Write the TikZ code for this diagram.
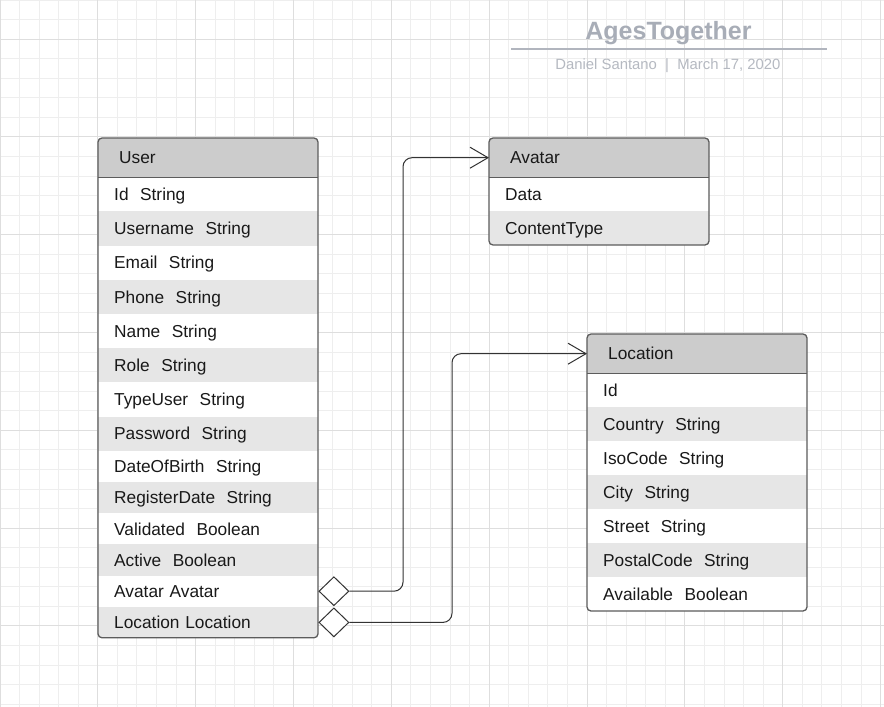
\documentclass[tikz,border=0pt]{standalone}
\usepackage{fontspec}
\setmainfont{Liberation Sans}
\usetikzlibrary{shapes.geometric,arrows.meta,calc}
\definecolor{gridminor}{HTML}{EEEEEE}
\definecolor{gridmajor}{HTML}{DEDEDE}
\definecolor{hdrfill}{HTML}{CCCCCC}
\definecolor{rowshade}{HTML}{E6E6E6}
\definecolor{border}{HTML}{5C5C5C}
\definecolor{connc}{HTML}{333333}
\definecolor{titlec}{HTML}{A8ADB7}
\definecolor{rulec}{HTML}{B1B5BE}
\definecolor{subc}{HTML}{B5B9C1}
\tikzset{
  tablefont/.style={font=\fontsize{17.3}{20}\selectfont, text=black!90, text height=12.4pt, text depth=0pt},
  hdr/.style={tablefont, anchor=north west, fill=hdrfill, minimum width=220pt, minimum height=39pt,
    inner xsep=21pt, inner ysep=0pt, text width=178pt, align=left},
  rowA/.style={tablefont, anchor=north west, fill=white, minimum width=220pt, minimum height=#1,
    inner xsep=16pt, inner ysep=0pt, text width=188pt, align=left},
  rowB/.style={rowA=#1, fill=rowshade},
  outline/.style={draw=border, line width=1.3pt, rounded corners=4pt},
  sepline/.style={draw=border, line width=1.3pt},
  agg/.style={diamond, draw=connc, fill=white, line width=1pt, minimum width=30pt, minimum height=29pt, inner sep=0pt, anchor=west},
  conn/.style={draw=connc, line width=1pt, rounded corners=9pt, -{Straight Barb[length=18pt,width=21pt,line width=1pt]}},
}
\begin{document}
\begin{tikzpicture}[x=1pt,y=-1pt]
\useasboundingbox (0,0) rectangle (884,707);
\fill[white] (0,0) rectangle (884,707);
% grid
\foreach \k in {0,...,45} \draw[gridminor, line width=1pt] (\k*19.57,0) -- (\k*19.57,707);
\foreach \k in {0,...,36} \draw[gridminor, line width=1pt] (0,\k*19.56) -- (884,\k*19.56);
\foreach \k in {0,5,...,45} \draw[gridmajor, line width=1pt] (\k*19.57,0) -- (\k*19.57,707);
\foreach \k in {2,7,...,37} \draw[gridmajor, line width=1pt] (0,\k*19.56) -- (884,\k*19.56);

% title
\node[font=\fontsize{25}{28}\bfseries, text=titlec, inner sep=0pt, anchor=base] (title) at (668.5,39.3) {AgesTogether};
\draw[rulec, line width=2pt] (511,48.7) -- (826.7,48.7);
\node[font=\fontsize{14.85}{17}\selectfont, text=subc, inner sep=0pt, anchor=base] (sub) at (668,69.4) {Daniel Santano\ \ |\ \ March 17, 2020};

% User table
\begin{scope}
\clip[rounded corners=4pt] (98,138) rectangle (318,637.8);
\node[hdr] (userH) at (98,138) {User};
\node[rowA=34.2pt] (u1) at (98,177) {Id\ \ String};
\node[rowB=34.2pt] (u2) at (98,211.2) {Username\ \ String};
\node[rowA=34.2pt] (u3) at (98,245.4) {Email\ \ String};
\node[rowB=34.2pt] (u4) at (98,279.6) {Phone\ \ String};
\node[rowA=34.2pt] (u5) at (98,313.8) {Name\ \ String};
\node[rowB=34.2pt] (u6) at (98,348) {Role\ \ String};
\node[rowA=34.2pt] (u7) at (98,382.2) {TypeUser\ \ String};
\node[rowB=34.2pt] (u8) at (98,416.4) {Password\ \ String};
\node[rowA=31.2pt] (u9) at (98,450.6) {DateOfBirth\ \ String};
\node[rowB=31.2pt] (u10) at (98,481.8) {RegisterDate\ \ String};
\node[rowA=31.2pt] (u11) at (98,513) {Validated\ \ Boolean};
\node[rowB=31.2pt] (u12) at (98,544.2) {Active\ \ Boolean};
\node[rowA=31.2pt] (uav) at (98,575.4) {Avatar Avatar};
\node[rowB=31.2pt] (ulo) at (98,606.6) {Location Location};
\end{scope}
\draw[outline] (98,138) rectangle (318,637.8);
\draw[sepline] (userH.south west) -- (userH.south east);

% Avatar table
\begin{scope}
\clip[rounded corners=4pt] (489,138) rectangle (709,245);
\node[hdr] (avatarH) at (489,138) {Avatar};
\node[rowA=34pt] (a1) at (489,177) {Data};
\node[rowB=34pt] (a2) at (489,211) {ContentType};
\end{scope}
\draw[outline] (489,138) rectangle (709,245);
\draw[sepline] (avatarH.south west) -- (avatarH.south east);

% Location table
\begin{scope}
\clip[rounded corners=4pt] (587,334) rectangle (807,611);
\node[hdr] (locH) at (587,334) {Location};
\node[rowA=34pt] (l1) at (587,373) {Id};
\node[rowB=34pt] (l2) at (587,407) {Country\ \ String};
\node[rowA=34pt] (l3) at (587,441) {IsoCode\ \ String};
\node[rowB=34pt] (l4) at (587,475) {City\ \ String};
\node[rowA=34pt] (l5) at (587,509) {Street\ \ String};
\node[rowB=34pt] (l6) at (587,543) {PostalCode\ \ String};
\node[rowA=34pt] (l7) at (587,577) {Available\ \ Boolean};
\end{scope}
\draw[outline] (587,334) rectangle (807,611);
\draw[sepline] (locH.south west) -- (locH.south east);

% aggregation diamonds
\node[agg] (dA) at (uav.east) {};
\node[agg] (dL) at (ulo.east) {};

% connectors
\coordinate (kA) at (403,0);
\coordinate (kL) at (452,0);
\draw[conn] (dA.east) -| (kA |- avatarH.west) -- (avatarH.west);
\draw[conn] (dL.east) -| (kL |- locH.west) -- (locH.west);
\end{tikzpicture}
\end{document}
